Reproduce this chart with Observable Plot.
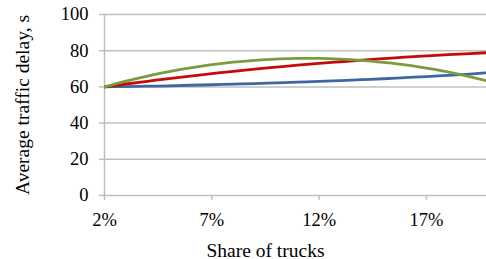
<!DOCTYPE html>
<html>
<head>
<meta charset="utf-8">
<script src="https://cdn.jsdelivr.net/npm/d3@7"></script>
<script src="https://cdn.jsdelivr.net/npm/@observablehq/plot@0.6"></script>
<style>
  html, body { margin: 0; padding: 0; background: #fff; }
  #chart svg { display: block; }
  #chart svg text { font-family: 'Liberation Serif', 'Times New Roman', serif !important; }
</style>
</head>
<body>
<div id="chart"></div>
<script>
const shares = [2,3,4,5,6,7,8,9,10,11,12,13,14,15,16,17,18,19,20];
const blueSeries = [60,60.2,60.4,60.6,60.9,61.2,61.5,61.8,62.2,62.6,63.0,63.5,64.0,64.5,65.1,65.7,66.4,67.1,67.9];
const redSeries = [60,61.6,63.1,64.6,66.0,67.3,68.6,69.8,70.9,72.0,73.0,73.9,74.8,75.6,76.4,77.1,77.8,78.4,79.0];
const greenSeries = [60,63.2,66.0,68.4,70.5,72.3,73.7,74.7,75.4,75.8,75.8,75.4,74.6,73.5,72.2,70.4,68.3,65.7,62.8];
const xTicks = [2,7,12,17];
const xTickLabels = ["2%","7%","12%","17%"];
const yTicks = [0,20,40,60,80,100];

const seriesDefs = [
  {name: "Series A", values: blueSeries, color: "#3F68A3"},
  {name: "Series B", values: redSeries, color: "#C50A0A"},
  {name: "Series C", values: greenSeries, color: "#7D9B3E"}
];
const rows = seriesDefs.flatMap(s => shares.map((x, i) => ({series: s.name, x, y: s.values[i]})));

const font = "'Liberation Serif', 'Times New Roman', serif";

const chart = Plot.plot({
  width: 486,
  height: 259,
  marginLeft: 104,
  marginRight: 0,
  marginTop: 14,
  marginBottom: 64,
  style: {fontFamily: font, fontSize: "16px", color: "#000", background: "#fff"},
  x: {domain: [2, 19.8], ticks: xTicks, label: null},
  y: {domain: [0, 100], ticks: yTicks, label: null},
  color: {type: "ordinal", domain: seriesDefs.map(s => s.name), range: seriesDefs.map(s => s.color)},
  marks: [
    Plot.ruleY(yTicks, {stroke: "#BFBFBF", strokeWidth: 1.5}),
    Plot.ruleX([2], {stroke: "#BFBFBF", strokeWidth: 1.5}),
    Plot.axisY({ticks: yTicks, tickSize: 5, stroke: "#BFBFBF", strokeWidth: 1.5, text: null, label: null}),
    Plot.axisX({ticks: xTicks, tickSize: 5, stroke: "#BFBFBF", strokeWidth: 1.5, text: null, label: null}),
    Plot.text(yTicks, {x: 2, y: d => d, dx: -16, textAnchor: "end", fontSize: 18.5, fontFamily: font, fill: "#000"}),
    Plot.text(xTicks, {x: d => d, text: (d, i) => xTickLabels[i], frameAnchor: "bottom", lineAnchor: "top", dy: 17, fontSize: 18.5, fontFamily: font, fill: "#000"}),
    Plot.line(rows, {x: "x", y: "y", z: "series", stroke: "series", strokeWidth: 2.8, curve: "monotone-x", clip: true}),
    Plot.text(["Share of trucks"], {frameAnchor: "bottom", dx: -30, dy: 61, fontSize: 19.5, fontFamily: font, fill: "#000"}),
    Plot.text(["Average traffic delay, s"], {frameAnchor: "left", textAnchor: "middle", dx: -82, rotate: -90, fontSize: 19.5, fontFamily: font, fill: "#000"})
  ]
});
document.getElementById("chart").appendChild(chart);
</script>
</body>
</html>
